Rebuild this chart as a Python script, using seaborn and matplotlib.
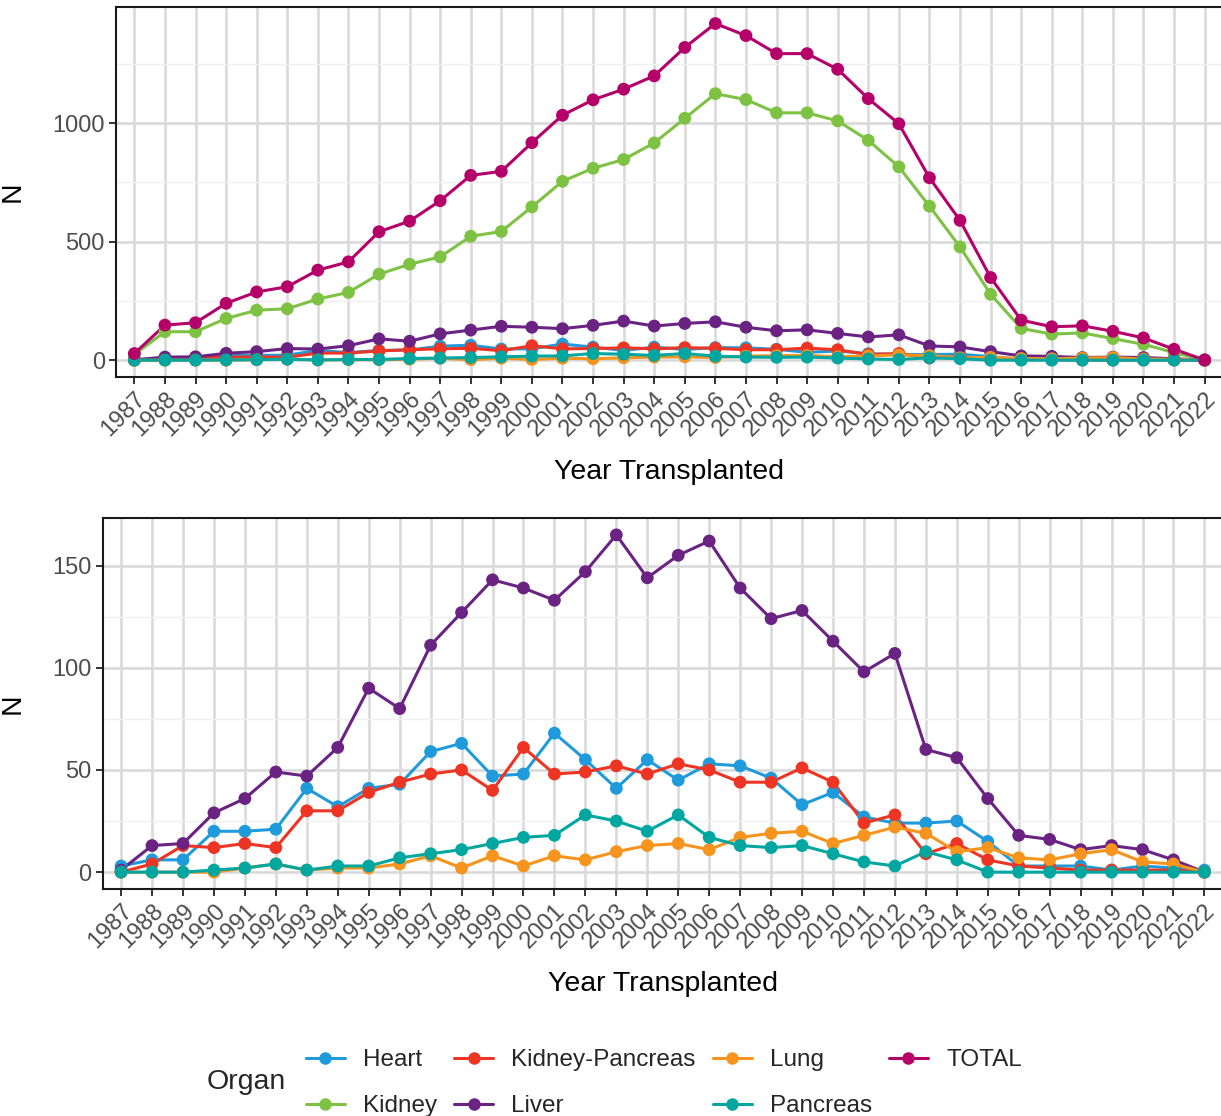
import pandas as pd
import matplotlib
matplotlib.use("Agg")
import matplotlib.pyplot as plt
from matplotlib.lines import Line2D
from matplotlib.ticker import FixedLocator
import seaborn as sns

# -------------------------------
# Data
# -------------------------------
years = list(range(1987, 2023))

heart = [3, 6, 6, 20, 20, 21, 41, 32, 41, 43,
         59, 63, 47, 48, 68, 55, 41, 55, 45, 53,
         52, 46, 33, 39, 27, 24, 24, 25, 15, 3,
         3, 3, 1, 3, 2, 1]
kidney = [24, 120, 120, 176, 211, 217, 258, 286, 363, 405,
          436, 523, 543, 647, 755, 810, 847, 917, 1021, 1125,
          1100, 1044, 1044, 1010, 928, 816, 650, 478, 278, 134,
          110, 115, 91, 67, 32, 0]
kidney_pancreas = [0, 4, 13, 12, 14, 12, 30, 30, 39, 44,
                   48, 50, 40, 61, 48, 49, 52, 48, 53, 50,
                   44, 44, 51, 44, 24, 28, 9, 14, 6, 3,
                   2, 1, 1, 1, 1, 0]
liver = [1, 13, 14, 29, 36, 49, 47, 61, 90, 80,
         111, 127, 143, 139, 133, 147, 165, 144, 155, 162,
         139, 124, 128, 113, 98, 107, 60, 56, 36, 18,
         16, 11, 13, 11, 6, 0]
lung = [0, 0, 0, 0, 2, 4, 1, 2, 2, 4,
        8, 2, 8, 3, 8, 6, 10, 13, 14, 11,
        17, 19, 20, 14, 18, 22, 19, 10, 12, 7,
        6, 9, 11, 5, 4, 0]
pancreas = [0, 0, 0, 1, 2, 4, 1, 3, 3, 7,
            9, 11, 14, 17, 18, 28, 25, 20, 28, 17,
            13, 12, 13, 9, 5, 3, 10, 6, 0, 0,
            0, 0, 0, 0, 0, 0]
total = [28, 148, 158, 240, 288, 310, 380, 415, 542, 587,
         673, 780, 797, 918, 1034, 1099, 1144, 1200, 1320, 1421,
         1370, 1294, 1294, 1228, 1104, 998, 770, 590, 349, 169,
         141, 145, 122, 94, 46, 1]

organs = ["Heart", "Kidney", "Kidney-Pancreas", "Liver", "Lung", "Pancreas", "TOTAL"]
series = [heart, kidney, kidney_pancreas, liver, lung, pancreas, total]
colors = ["#1F9BDB", "#7DC242", "#EE3524", "#6A2383", "#F7941D", "#00A6A0", "#B5006A"]
palette = dict(zip(organs, colors))

rows = []
for org, vals in zip(organs, series):
    for y, v in zip(years, vals):
        rows.append({"Year": y, "N": v, "Organ": org})
df = pd.DataFrame(rows)

bottom_organs = ["Heart", "Kidney-Pancreas", "Liver", "Lung", "Pancreas"]
df_bottom = df[df["Organ"].isin(bottom_organs)]

# -------------------------------
# Style
# -------------------------------
sns.set_style("white")
plt.rcParams["font.family"] = ["Liberation Sans", "DejaVu Sans"]

fig = plt.figure(figsize=(12.21, 11.16), dpi=100)
W, H = 1221, 1116
ax_top = fig.add_axes([116 / W, 1 - 377 / H, (1223 - 116) / W, (377 - 6.7) / H])
ax_bot = fig.add_axes([102.5 / W, 1 - 889 / H, (1223 - 102.5) / W, (889 - 518) / H])


def draw_panel(ax, data, hue_order, majors, minors, ylabel_x):
    sns.lineplot(data=data, x="Year", y="N", hue="Organ", hue_order=hue_order,
                 palette=palette, linewidth=2.2, ax=ax, legend=False)
    sns.scatterplot(data=data, x="Year", y="N", hue="Organ", hue_order=hue_order,
                    palette=palette, s=85, linewidth=0, ax=ax, legend=False, zorder=3)
    ymax = data["N"].max()
    ax.set_ylim(-0.05 * ymax, 1.05 * ymax)
    ax.set_xlim(years[0] - 0.6, years[-1] + 0.6)
    ax.set_xticks(years)
    ax.set_xticklabels([str(y) for y in years], rotation=45, ha="right",
                       rotation_mode="anchor")
    ax.set_yticks(majors)
    ax.yaxis.set_minor_locator(FixedLocator(minors))
    ax.set_axisbelow(True)
    ax.grid(which="major", color="#DADADA", linewidth=1.9)
    ax.grid(which="minor", axis="y", color="#F0F0F0", linewidth=1.0)
    ax.tick_params(which="major", length=5, width=1.4, color="#333333",
                   labelsize=17, labelcolor="#4D4D4D", pad=3,
                   bottom=True, left=True)
    ax.tick_params(which="minor", length=0)
    for sp in ax.spines.values():
        sp.set_color("#1A1A1A")
        sp.set_linewidth(1.5)
    ax.set_xlabel("Year Transplanted", fontsize=20.5, color="black")
    ax.set_ylabel("N", fontsize=20.5, color="black")
    ax.xaxis.set_label_coords(0.5, -0.221)
    ax.yaxis.set_label_coords(ylabel_x, 0.5)


draw_panel(ax_top, df, organs, [0, 500, 1000], [250, 750, 1250], -0.082)
draw_panel(ax_bot, df_bottom, bottom_organs, [0, 50, 100, 150], [25, 75, 125], -0.069)

# -------------------------------
# Legend
# -------------------------------
handles = [Line2D([], [], color=c, lw=2.2, marker="o", markersize=9,
                  markeredgewidth=0) for c in colors]
fig.legend(handles, organs, ncol=4, loc="upper left",
           bbox_to_anchor=(306 / W, 1 - 1049 / H), frameon=False, fontsize=17.5,
           handlelength=1.6, handletextpad=0.75, columnspacing=0.7,
           labelspacing=1.0, borderpad=0, borderaxespad=0)
fig.text(207 / W, 1 - 1082 / H, "Organ", fontsize=20.5, va="center", ha="left")

plt.savefig("out.png", dpi=100)
